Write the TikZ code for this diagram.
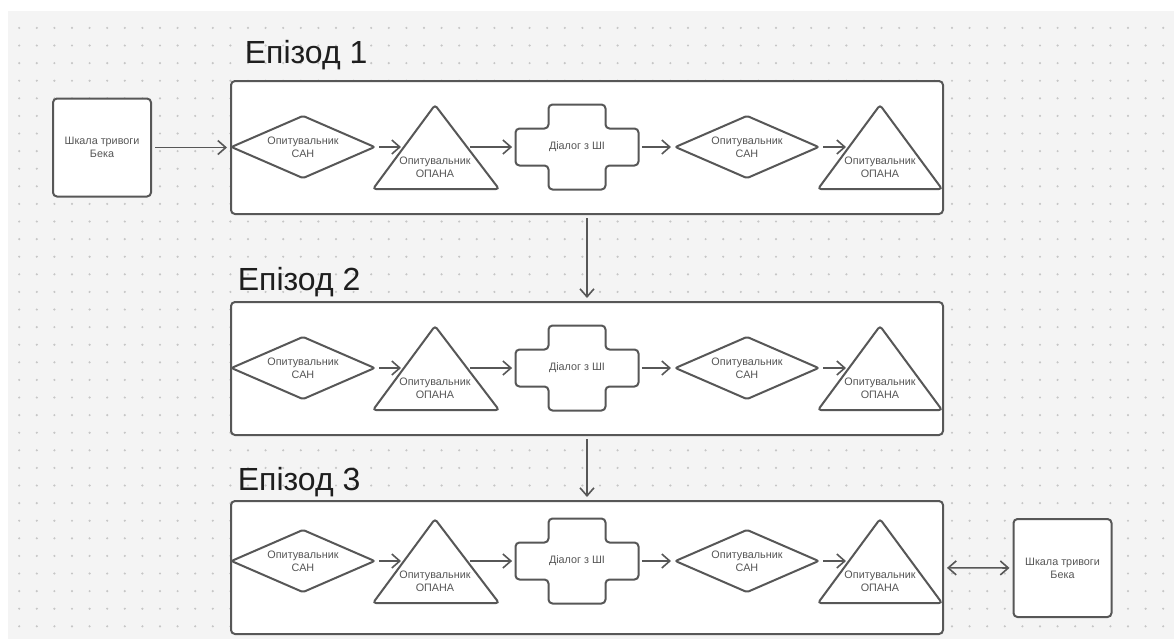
\documentclass[tikz,border=0pt]{standalone}
\usepackage{fontspec}
\setmainfont{Liberation Sans}
\usetikzlibrary{arrows.meta,shapes.geometric}
\definecolor{canvas}{HTML}{F4F4F4}
\definecolor{dotgrey}{HTML}{C6C6C6}
\definecolor{linegrey}{HTML}{575757}
\definecolor{textgrey}{HTML}{555555}
\definecolor{titleblack}{HTML}{1E1E1E}
\tikzset{barb/.tip={Straight Barb[length=4pt,width=7pt]}}

\begin{document}
\begin{tikzpicture}[x=0.5pt, y=-0.5pt,
  outline/.style={draw=linegrey, line width=1pt},
  txt/.style={text=textgrey, font=\fontsize{5.4}{6.5}\selectfont, align=center, inner sep=0pt},
  epbox/.style={outline, fill=white, rounded corners=2pt, minimum width=356pt, minimum height=66.5pt},
  scalebox/.style={outline, txt, fill=white, rounded corners=2pt, minimum width=49pt, minimum height=49pt},
  sanbox/.style={outline, txt, diamond, aspect=2.29, rounded corners=1pt, minimum width=72pt, minimum height=31.5pt},
  dialogbox/.style={txt, minimum width=61.5pt, minimum height=42.5pt},
  eptitle/.style={text=titleblack, font=\fontsize{16}{16}\selectfont, anchor=base west, inner sep=0pt},
  link/.style={draw=linegrey, line width=0.8pt, -barb, shorten >=1.5pt, shorten <=1.5pt}]

  \useasboundingbox (0,0) rectangle (1174,639);
  \fill[white] (0,0) rectangle (1174,639);
  \fill[canvas] (8,11) rectangle (1174,639);
  \foreach \k in {0,...,65}
    \foreach \m in {0,...,34}
      \fill[dotgrey] (19.2+17.6*\k, 27.9+17.6*\m) circle (0.6pt);

  \node[scalebox] (lbeck) at (102,147.5) {Шкала тривоги\\Бека};
  \node[scalebox] (rbeck) at (1062.5,568) {Шкала тривоги\\Бека};

  % one frame per episode
  \foreach \i/\fy/\cy/\tx/\ty in {1/147.5/147/244.5/63, 2/368.5/368/237.5/290, 3/567.5/561/237.5/490}{
    \node[epbox] (ep\i) at (587,\fy) {};
    \node[eptitle] (title\i) at (\tx,\ty) {Епізод \i};

    \node[sanbox] (sana\i) at (303,\cy) {Опитувальник\\САН};
    \draw[outline, rounded corners=1.5pt] (373,\cy+42) -- (435,\cy-42) -- (499,\cy+42) -- cycle;
    \node[txt] (opana\i) at (435,\cy+20) {Опитувальник\\ОПАНА};
    \coordinate (opanain\i) at (404,\cy);
    \coordinate (opanaout\i) at (467,\cy);

    \draw[outline, rounded corners=2pt] (577,\cy) ++(-61.5,-18.5) -- ++(33,0) -- ++(0,-24)
      -- ++(57,0) -- ++(0,24) -- ++(33,0) -- ++(0,37) -- ++(-33,0) -- ++(0,24)
      -- ++(-57,0) -- ++(0,-24) -- ++(-33,0) -- cycle;
    \node[dialogbox] (dialog\i) at (577,\cy) {Діалог з ШІ};

    \node[sanbox] (sanb\i) at (747,\cy) {Опитувальник\\САН};
    \draw[outline, rounded corners=1.5pt] (818,\cy+42) -- (880,\cy-42) -- (942,\cy+42) -- cycle;
    \node[txt] (opanb\i) at (880,\cy+20) {Опитувальник\\ОПАНА};
    \coordinate (opanbin\i) at (849,\cy);

    \draw[link] (sana\i) -- (opanain\i);
    \draw[link] (opanaout\i) -- (dialog\i);
    \draw[link] (dialog\i) -- (sanb\i);
    \draw[link] (sanb\i) -- (opanbin\i);
  }

  \draw[link] (lbeck) -- (ep1);
  \draw[link] (ep1) -- (ep2);
  \draw[link] (ep2) -- (ep3);
  \draw[link, barb-barb] (ep3) -- (rbeck);
\end{tikzpicture}
\end{document}
